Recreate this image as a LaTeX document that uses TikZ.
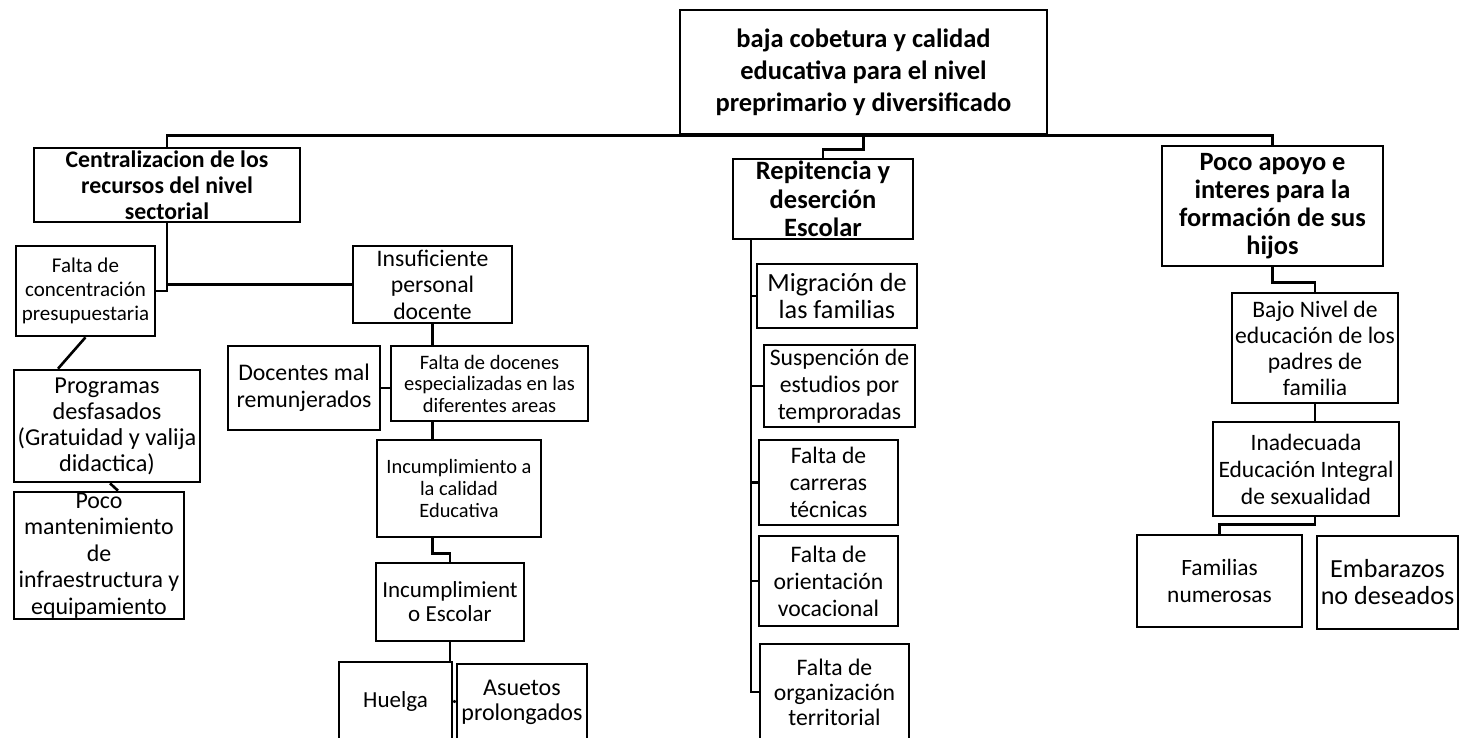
\documentclass[tikz,border=0pt]{standalone}
\usepackage{fontspec}
\setmainfont{Carlito}
\newcommand{\fhead}{\bfseries\fontsize{26.5}{28.5}\selectfont}
\newcommand{\fbody}{\fontsize{23.7}{26.5}\selectfont}
\newcommand{\fsmall}{\fontsize{20.5}{21.5}\selectfont}
\tikzset{
  box/.style={draw, line width=2.6pt, inner sep=0pt, align=center},
  link/.style={line width=2.6pt}
}

\begin{document}
\begin{tikzpicture}[x=1pt, y=-1pt]
    \useasboundingbox (0,0) rectangle (1459,737);
    % Problem
    \node[box, minimum width=367pt, minimum height=124pt, font=\bfseries\fontsize{26.5}{32}\selectfont] (top) at (863.5,72) {baja cobetura y calidad\\educativa para el nivel\\preprimario y diversificado};
    % Causes
    \node[box, minimum width=266pt, minimum height=74pt, font=\bfseries\fontsize{23.8}{26}\selectfont] (cen) at (167,185) {Centralizacion de los\\recursos del nivel\\sectorial};
    \node[box, minimum width=180pt, minimum height=80pt, font=\fhead] (rep) at (823,199) {Repitencia y\\deserción\\Escolar};
    \node[box, minimum width=221pt, minimum height=120pt, font=\bfseries\fontsize{26.4}{28}\selectfont] (apo) at (1272.5,206) {Poco apoyo e\\interes para la\\formación de sus\\hijos};

    % Left branch
    \node[box, minimum width=139pt, minimum height=90pt, font=\fontsize{21}{24}\selectfont] (fal) at (85.5,291) {Falta de\\concentración\\presupuestaria};
    \node[box, minimum width=159pt, minimum height=77pt, font=\fbody] (ins) at (432.5,284.5) {Insuficiente\\personal\\docente};
    \node[box, minimum width=186pt, minimum height=112pt, font=\fontsize{24.3}{26}\selectfont] (pro) at (107,426) {Programas\\desfasados\\(Gratuidad y valija\\didactica)};
    \node[box, minimum width=170pt, minimum height=127pt, font=\fontsize{23.9}{26.5}\selectfont] (man) at (99,555.5) {Poco\\mantenimiento\\de\\infraestructura y\\equipamiento};
    \node[box, minimum width=152pt, minimum height=84pt, font=\fontsize{23.8}{27}\selectfont] (mal) at (304,388) {Docentes mal\\remunjerados};
    \node[box, minimum width=197pt, minimum height=75pt, font=\fsmall] (doc) at (489.5,383.5) {Falta de docenes\\especializadas en las\\diferentes areas};
    \node[box, minimum width=164pt, minimum height=97pt, font=\fontsize{20.4}{22}\selectfont] (cal) at (459,488.5) {Incumplimiento a\\la calidad\\Educativa};
    \node[box, minimum width=148pt, minimum height=78pt, font=\fontsize{23}{24}\selectfont] (esc) at (450,602) {Incumplimient\\o Escolar};
    \node[box, minimum width=113pt, minimum height=78pt, font=\fontsize{23}{24}\selectfont] (hue) at (395.5,701) {Huelga};
    \node[box, minimum width=130pt, minimum height=76pt, font=\fontsize{24}{25}\selectfont] (asu) at (522,702) {Asuetos\\prolongados};

    % Middle branch
    \node[box, minimum width=160pt, minimum height=64pt, font=\fontsize{26.2}{27}\selectfont] (mig) at (837,296) {Migración de\\las familias};
    \node[box, minimum width=151pt, minimum height=82pt, font=\fontsize{23.7}{27}\selectfont] (sus) at (839.5,386) {Suspención de\\estudios por\\temproradas};
    \node[box, minimum width=139pt, minimum height=85pt, font=\fontsize{23.6}{27}\selectfont] (car) at (828.5,482.5) {Falta de\\carreras\\técnicas};
    \node[box, minimum width=139pt, minimum height=90pt, font=\fontsize{23.7}{27}\selectfont] (ori) at (828.5,581) {Falta de\\orientación\\vocacional};
    \node[box, minimum width=149pt, minimum height=96pt, font=\fontsize{23.7}{25}\selectfont] (org) at (834.5,692) {Falta de\\organización\\territorial};

    % Right branch
    \node[box, minimum width=166pt, minimum height=110pt, font=\fontsize{23.6}{26}\selectfont] (baj) at (1315,348) {Bajo Nivel de\\educación de los\\padres de\\familia};
    \node[box, minimum width=186pt, minimum height=94pt, font=\fontsize{23.5}{27}\selectfont] (ina) at (1306,469) {Inadecuada\\Educación Integral\\de sexualidad};
    \node[box, minimum width=165pt, minimum height=92pt, font=\fontsize{23.4}{27}\selectfont] (fam) at (1219.5,581) {Familias\\numerosas};
    \node[box, minimum width=141pt, minimum height=93pt, font=\fontsize{26.1}{27}\selectfont] (emb) at (1387.5,582.5) {Embarazos\\no deseados};

    % Links
    \draw[link] (cen.north) |- (top.south) -| (apo.north);
    \draw[link] (top.south) -- ++(0,14) -| (rep.north);
    \draw[link] (cen.south) |- (fal.east);
    \draw[link] (ins.west) -- (ins.west -| cen.south);
    \draw[link] (fal.south) -- ([xshift=-49pt]pro.north);
    \draw[link] ([xshift=3pt]pro.south) -- ([xshift=19pt]man.north);
    \draw[link] (ins.south) -- (ins.south |- doc.north);
    \draw[link] (mal.east) -- (mal.east -| doc.west);
    \draw[link] (ins.south |- doc.south) -- (ins.south |- cal.north);
    \draw[link] (ins.south |- cal.south) -- ++(0,15) -| (esc.north);
    \draw[link] (esc.south) -- (esc.south |- hue.north);
    \draw[link] (hue.east) -- (asu.west);
    \coordinate (spine) at ([xshift=-72pt]rep.south);
    \draw[link] (spine) |- (org.west);
    \foreach \n in {mig,sus,car,ori}
        \draw[link] (\n.west) -- (\n.west -| spine);
    \draw[link] (apo.south) -- ++(0,15) -| (baj.north);
    \draw[link] (baj.south) -- (baj.south |- ina.north);
    \draw[link] (baj.south |- ina.south) -- ++(0,7) -| (fam.north);
\end{tikzpicture}
\end{document}
